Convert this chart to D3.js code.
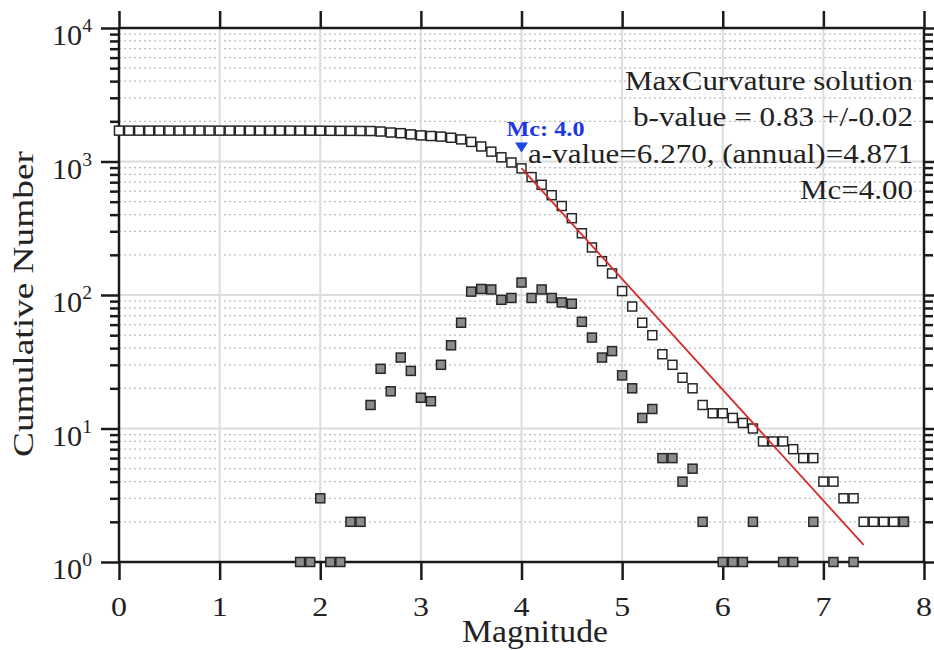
<!DOCTYPE html>
<html>
<head>
<meta charset="utf-8">
<script src="https://cdn.jsdelivr.net/npm/d3@7"></script>
<style>
  html, body { margin: 0; padding: 0; background: #fff; }
  svg { display: block; }
</style>
</head>
<body>
<svg id="chart" width="934" height="650"></svg>
<script>
// ---- data ----
const magnitudes = [0.0,0.1,0.2,0.3,0.4,0.5,0.6,0.7,0.8,0.9,1.0,1.1,1.2,1.3,1.4,1.5,1.6,1.7,1.8,1.9,
  2.0,2.1,2.2,2.3,2.4,2.5,2.6,2.7,2.8,2.9,3.0,3.1,3.2,3.3,3.4,3.5,3.6,3.7,3.8,3.9,
  4.0,4.1,4.2,4.3,4.4,4.5,4.6,4.7,4.8,4.9,5.0,5.1,5.2,5.3,5.4,5.5,5.6,5.7,5.8,5.9,
  6.0,6.1,6.2,6.3,6.4,6.5,6.6,6.7,6.8,6.9,7.0,7.1,7.2,7.3,7.4,7.5,7.6,7.7,7.8];
const cumulativeCount = [1703,1703,1703,1703,1703,1703,1703,1703,1703,1703,1703,1703,1703,1703,1703,1703,1703,1703,1703,1702,
  1701,1698,1697,1696,1694,1692,1677,1649,1630,1596,1569,1552,1536,1506,1464,1402,1296,1185,1075,983,
  888,764,669,559,464,376,290,227,179,145,107,82,62,50,36,30,24,20,15,13,
  13,12,11,10,8,8,8,7,6,6,4,4,3,3,2,2,2,2,2];
const binCount = [0,0,0,0,0,0,0,0,0,0,0,0,0,0,0,0,0,0,1,1,
  3,1,1,2,2,15,28,19,34,27,17,16,30,42,62,106,111,110,92,95,
  124,95,110,95,88,86,63,48,34,38,25,20,12,14,6,6,4,5,2,0,
  1,1,1,2,0,0,1,1,0,2,0,1,0,1,0,0,0,0,2];
const xTicks = [0,1,2,3,4,5,6,7,8];
const yDecades = [0,1,2,3,4];
const aValue = 6.270, bValue = 0.83, bError = 0.02, annualA = 4.871, mcValue = 4.0;
const fitRange = [4.0, 7.4];
const infoLines = ["MaxCurvature solution", "b-value = 0.83 +/-0.02", "a-value=6.270, (annual)=4.871", "Mc=4.00"];
const mcLabel = "Mc: 4.0";
const xTitle = "Magnitude", yTitle = "Cumulative Number";

// ---- pick an installed Times-like serif, else fall back ----
const cv = document.createElement("canvas").getContext("2d");
function hasFont(name) {
  const s = "abcdefghijklmMWil1029";
  cv.font = `40px monospace`; const w0 = cv.measureText(s).width;
  cv.font = `40px "${name}", monospace`; const w1 = cv.measureText(s).width;
  cv.font = `40px sans-serif`; const w2 = cv.measureText(s).width;
  cv.font = `40px "${name}", sans-serif`; const w3 = cv.measureText(s).width;
  return w0 !== w1 || w2 !== w3;
}
const timesLike = ["Liberation Serif", "Tinos", "Times New Roman", "Nimbus Roman", "Nimbus Roman No9 L", "FreeSerif", "Times"];
let FONT = timesLike.find(hasFont);
let capRatio = 0.662;
if (!FONT) { FONT = "DejaVu Serif"; capRatio = 0.729; }
const FAM = `"${FONT}", serif`;
const sizeFor = cap => cap / capRatio;

// ---- layout ----
const L = 119, R = 924, T = 28, B = 562;
const svg = d3.select("#chart").attr("font-family", FAM);
const x = d3.scaleLinear().domain([0, 8]).range([L, R]);
const y = d3.scaleLog().domain([1, 1e4]).range([B, T]);

const axisColor = "#1a1a1a";
const minorVals = [];
yDecades.slice(0, -1).forEach(d => { for (let k = 2; k <= 9; k++) minorVals.push(k * Math.pow(10, d)); });
const majorVals = yDecades.map(d => Math.pow(10, d));

// grid
const grid = svg.append("g");
grid.selectAll("line.minor").data(minorVals).join("line")
  .attr("x1", L).attr("x2", R).attr("y1", d => y(d)).attr("y2", d => y(d))
  .attr("stroke", "#bdbdbd").attr("stroke-width", 1.3).attr("stroke-dasharray", "2,3");
grid.selectAll("line.hmaj").data(majorVals).join("line")
  .attr("x1", L).attr("x2", R).attr("y1", d => y(d)).attr("y2", d => y(d))
  .attr("stroke", "#dcdcdc").attr("stroke-width", 2);
grid.selectAll("line.vmaj").data(xTicks).join("line")
  .attr("x1", d => x(d)).attr("x2", d => x(d)).attr("y1", T).attr("y2", B)
  .attr("stroke", "#dcdcdc").attr("stroke-width", 2);

// axes
const bottomAxis = d3.axisBottom(x).tickValues(xTicks).tickSize(18).tickFormat("");
const topAxis = d3.axisTop(x).tickValues(xTicks).tickSize(17).tickFormat("");
const leftMajor = d3.axisLeft(y).tickValues(majorVals).tickSize(18).tickFormat("");
const leftMinor = d3.axisLeft(y).tickValues(minorVals).tickSize(9).tickFormat("");
const rightMajor = d3.axisRight(y).tickValues(majorVals).tickSize(18).tickFormat("");
const rightMinor = d3.axisRight(y).tickValues(minorVals).tickSize(9).tickFormat("");
function styleAxis(g) {
  g.selectAll("path").attr("stroke", axisColor).attr("stroke-width", 2.5);
  g.selectAll("line").attr("stroke", axisColor).attr("stroke-width", 2.5);
}
svg.append("g").attr("transform", `translate(0,${B})`).call(bottomAxis).call(styleAxis).select("path").attr("d", `M${L},0H${R}`);
svg.append("g").attr("transform", `translate(0,${T})`).call(topAxis).call(styleAxis).select("path").attr("d", `M${L},0H${R}`);
svg.append("g").attr("transform", `translate(${L},0)`).call(leftMajor).call(styleAxis).select("path").attr("d", `M0,${T}V${B}`);
svg.append("g").attr("transform", `translate(${L},0)`).call(leftMinor).call(styleAxis).select("path").remove();
svg.append("g").attr("transform", `translate(${R},0)`).call(rightMajor).call(styleAxis).select("path").attr("d", `M0,${T}V${B}`);
svg.append("g").attr("transform", `translate(${R},0)`).call(rightMinor).call(styleAxis).select("path").remove();

// text helper: height by cap size, width by target length
function label(parent, px, py, str, cap, len, anchor, opts = {}) {
  const t = parent.append("text").attr("x", px).attr("y", py)
    .attr("text-anchor", anchor).attr("font-size", sizeFor(cap))
    .attr("fill", opts.fill || "#222").text(str);
  if (opts.bold) t.attr("font-weight", "bold");
  if (len) t.attr("textLength", len).attr("lengthAdjust", "spacingAndGlyphs");
  return t;
}

// tick labels
xTicks.forEach(v => label(svg, x(v), 616, String(v), 18, 16, "middle"));
yDecades.forEach(d => {
  const ty = y(Math.pow(10, d));
  const t = svg.append("text").attr("x", 92).attr("y", ty + 17).attr("text-anchor", "end").attr("fill", "#222");
  t.append("tspan").attr("font-size", sizeFor(20)).text("10");
  t.append("tspan").attr("font-size", sizeFor(13)).attr("dy", -13).text(d);
});

// axis titles
label(svg, 535, 642, xTitle, 21, 146, "middle");
label(svg.append("g").attr("transform", "translate(33,304) rotate(-90)"), 0, 0, yTitle, 20, 306, "middle");

// open squares: cumulative
const S = 9;
const cumData = magnitudes.map((m, i) => ({ m, v: cumulativeCount[i] })).filter(d => d.v > 0);
svg.append("g").selectAll("rect").data(cumData).join("rect")
  .attr("x", d => x(d.m) - S / 2).attr("y", d => y(d.v) - S / 2)
  .attr("width", S).attr("height", S)
  .attr("fill", "#fff").attr("stroke", "#262626").attr("stroke-width", 1.5);

// fit line
const fitLine = d3.line().x(d => x(d)).y(d => y(Math.pow(10, aValue - bValue * d)));
svg.append("path").attr("d", fitLine(fitRange)).attr("fill", "none")
  .attr("stroke", "#d42a2a").attr("stroke-width", 1.8);

// filled squares: per-bin counts
const binData = magnitudes.map((m, i) => ({ m, v: binCount[i] })).filter(d => d.v > 0);
svg.append("g").selectAll("rect").data(binData).join("rect")
  .attr("x", d => x(d.m) - S / 2).attr("y", d => y(d.v) - S / 2)
  .attr("width", S).attr("height", S)
  .attr("fill", "#8c8c8c").attr("stroke", "#262626").attr("stroke-width", 1.5);

// Mc marker
const mcIdx = magnitudes.findIndex(m => Math.abs(m - mcValue) < 1e-9);
const tipX = x(mcValue), tipY = y(cumulativeCount[mcIdx]) - 16;
svg.append("path").attr("d", `M${tipX - 6.5},${tipY - 10}L${tipX + 6.5},${tipY - 10}L${tipX},${tipY}Z`)
  .attr("fill", "#1f45e6");
label(svg, tipX - 15, tipY - 16, mcLabel, 14.5, 78, "start", { bold: true, fill: "#1f38e0" });

// info text
const infoBase = [90, 126, 163, 199];
const infoLen = [288, 280, 385, 113];
infoLines.forEach((s, i) => label(svg, R - 11, infoBase[i], s, 18.5, infoLen[i], "end"));
</script>
</body>
</html>
